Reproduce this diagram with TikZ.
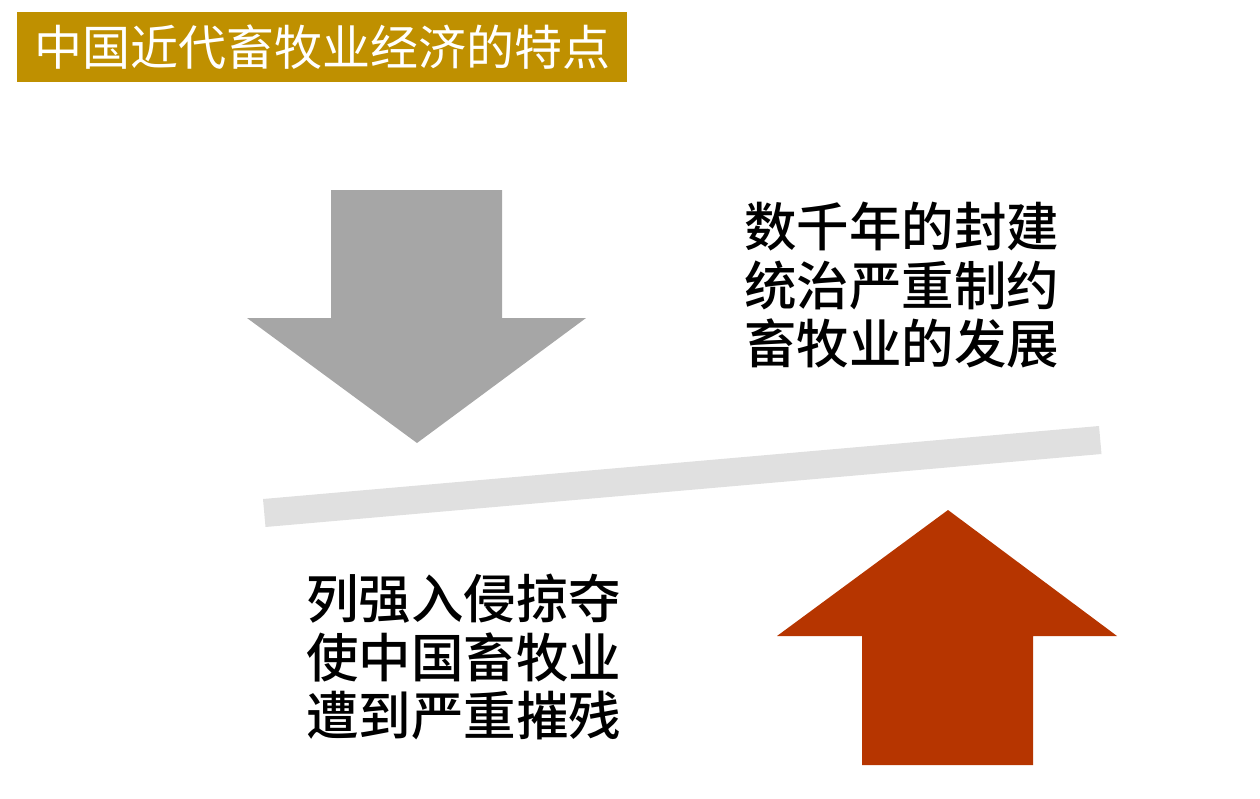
\documentclass[tikz,border=0pt]{standalone}
\usepackage{fontspec}
\newfontfamily\cjk{Noto Sans CJK SC}
\newfontfamily\cjkb{Noto Sans CJK SC Medium}
\definecolor{titlegold}{HTML}{BF9000}
\definecolor{arrowgray}{HTML}{A6A6A6}
\definecolor{bargray}{HTML}{E0E0E0}
\definecolor{arrowred}{HTML}{B63500}
\tikzset{
  title/.style={fill=titlegold, text=white, inner sep=0pt, minimum width=610pt, minimum height=70pt, font=\cjk\fontsize{48}{52}\selectfont},
  body/.style={align=left, anchor=north west, inner sep=0pt, font=\cjkb\fontsize{52.5}{58.5}\selectfont, text=black}
}
\begin{document}
\begin{tikzpicture}[x=1pt,y=-1pt]
\useasboundingbox (0,0) rectangle (1260,798);
% title
\node[title] (t) at (322,47) {中国近代畜牧业经济的特点};
% down arrow
\fill[arrowgray] (331,190) -- (502,190) -- (502,318) -- (586,318) -- (417,443) -- (247,318) -- (331,318) -- cycle;
% bar
\fill[bargray] (263,499) -- (1099,426) -- (1101.5,454) -- (265.5,527) -- cycle;
% up arrow
\fill[arrowred] (948,510) -- (1117,636) -- (1033,636) -- (1033,765) -- (862,765) -- (862,636) -- (777,636) -- cycle;
% texts
\node[body] (r) at (744,202) {数千年的封建\\统治严重制约\\畜牧业的发展};
\node[body] (l) at (306,574) {列强入侵掠夺\\使中国畜牧业\\遭到严重摧残};
\end{tikzpicture}
\end{document}
